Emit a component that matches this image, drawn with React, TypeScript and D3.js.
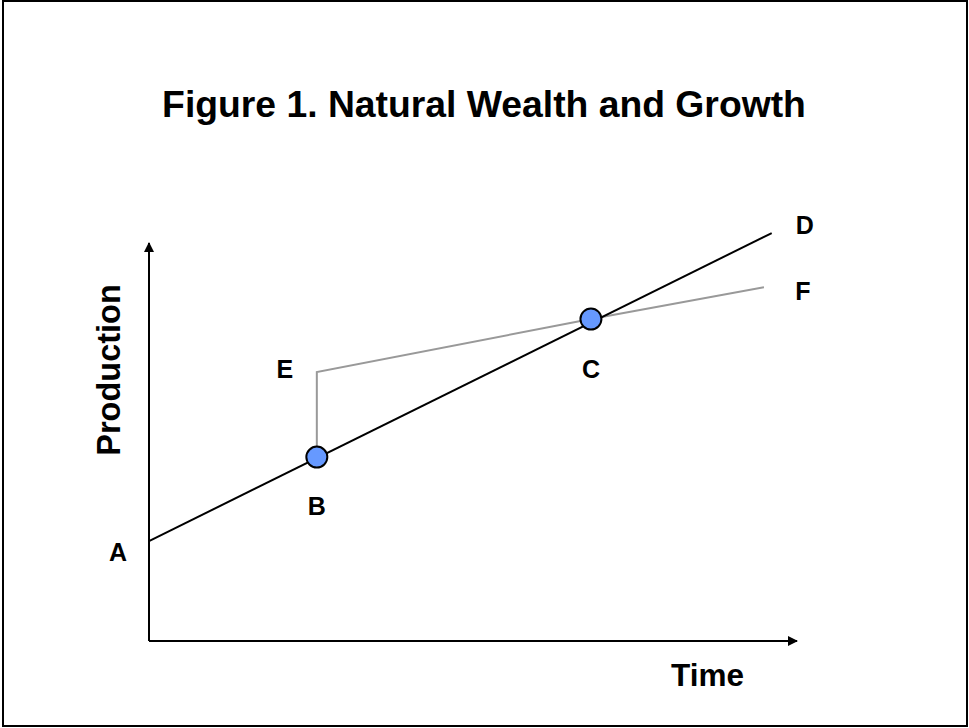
import React from "react";
import * as d3 from "d3";

const W = 969;
const H = 728;

const titleText = "Figure 1. Natural Wealth and Growth";
const xAxisLabel = "Time";
const yAxisLabel = "Production";

// Abstract data coordinates (x: time, y: production)
const mainLineNames = ["A", "D"];
const mainLineX = [0, 96.1];
const mainLineY = [25.1, 102.5];

const pointNames = ["B", "C"];
const pointX = [25.9, 68.2];
const pointY = [46.2, 80.9];

const altPathNames = ["B", "E", "C", "F"];
const altPathX = [25.9, 25.9, 68.2, 94.9];
const altPathY = [46.2, 67.6, 80.9, 88.9];

const labelNames = ["A", "B", "C", "D", "E", "F"];
const labelX = [0, 25.9, 68.2, 96.1, 25.9, 94.9];
const labelY = [25.1, 46.2, 80.9, 102.5, 67.6, 88.9];
const labelDx = [-31, 0, 0, 33, -32, 39];
const labelDy = [11, 49, 50, -8, -3, 4];

export default function App() {
  const x = d3.scaleLinear().domain([0, 100]).range([149, 797]);
  const y = d3.scaleLinear().domain([0, 100]).range([641, 243]);

  const line = d3
    .line<number[]>()
    .x((i) => x(i[0]))
    .y((i) => y(i[1]));

  const mainPts: [number, number][] = mainLineX.map((v, i) => [v, mainLineY[i]]);
  const altPts: [number, number][] = altPathX.map((v, i) => [v, altPathY[i]]);

  const font = "Arial, 'Liberation Sans', Helvetica, sans-serif";

  return (
    <svg
      width={W}
      height={H}
      style={{ position: "absolute", left: 0, top: 0, background: "#fff" }}
    >
      <defs>
        <marker
          id="arrow"
          viewBox="0 0 10 10"
          refX="9"
          refY="5"
          markerUnits="userSpaceOnUse"
          markerWidth="13"
          markerHeight="10"
          orient="auto"
        >
          <path d="M0,0 L10,5 L0,10 Z" fill="#000" />
        </marker>
      </defs>
      <rect x={3} y={1} width={964} height={725} fill="#fff" stroke="#000" strokeWidth={2} />
      <text
        x={484}
        y={117}
        textAnchor="middle"
        fontFamily={font}
        fontWeight="bold"
        fontSize={37.3}
        fill="#000"
      >
        {titleText}
      </text>
      {/* axes */}
      <line x1={x(0)} y1={y(0)} x2={x(0)} y2={243} stroke="#000" strokeWidth={2} markerEnd="url(#arrow)" />
      <line x1={x(0)} y1={y(0)} x2={797} y2={y(0)} stroke="#000" strokeWidth={2} markerEnd="url(#arrow)" />
      <text
        transform={`translate(120,370) rotate(-90)`}
        textAnchor="middle"
        fontFamily={font}
        fontWeight="bold"
        fontSize={32.5}
        fill="#000"
      >
        {yAxisLabel}
      </text>
      <text x={707.5} y={686} textAnchor="middle" fontFamily={font} fontWeight="bold" fontSize={31.5} fill="#000">
        {xAxisLabel}
      </text>
      {/* alternative path */}
      <path d={line(altPts) || ""} fill="none" stroke="#999" strokeWidth={2} />
      {/* main line */}
      <path d={line(mainPts) || ""} fill="none" stroke="#000" strokeWidth={2} />
      {pointNames.map((n, i) => (
        <circle key={n} cx={x(pointX[i])} cy={y(pointY[i])} r={10.5} fill="#6699ff" stroke="#000" strokeWidth={2} />
      ))}
      {labelNames.map((n, i) => (
        <text
          key={n}
          x={x(labelX[i]) + labelDx[i]}
          y={y(labelY[i]) + labelDy[i]}
          textAnchor="middle"
          dominantBaseline="central"
          fontFamily={font}
          fontWeight="bold"
          fontSize={25}
          fill="#000"
        >
          {n}
        </text>
      ))}
    </svg>
  );
}
